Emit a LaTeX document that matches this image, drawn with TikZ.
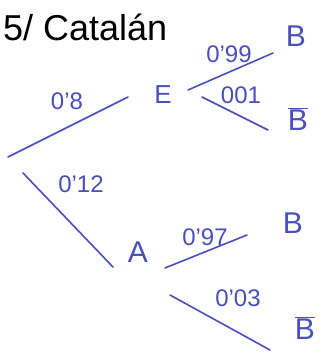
\documentclass[tikz,border=0pt]{standalone}
\usepackage{fontspec}
\setmainfont{Liberation Sans}
\definecolor{ink}{HTML}{4A4FBE}
\begin{document}
\begin{tikzpicture}[x=1pt,y=-1pt,
  br/.style={draw=ink,line width=1.6pt,line cap=round},
  lab/.style={text=ink,font=\fontsize{24}{24}\selectfont,inner sep=0pt},
  ev/.style={text=ink,font=\fontsize{30}{30}\selectfont,inner sep=0pt}]
\useasboundingbox (0,0) rectangle (321,356);
\fill[white] (0,0) rectangle (321,356);
\node[font=\fontsize{36}{36}\selectfont,inner sep=0pt,anchor=west] (title) at (3,27) {5/ Catalán};
% events
\node[ev,font=\fontsize{26}{26}\selectfont] (E) at (163,95) {E};
\node[ev] (A) at (138,252) {A};
\node[ev] (B1) at (296,36) {B};
\node[ev] (Bb1) at (298,119) {$\overline{\mbox{B}}$};
\node[ev] (B2) at (293,223) {B};
\node[ev] (Bb2) at (305,328) {$\overline{\mbox{B}}$};
% branch end points
\coordinate (r1) at (8,157);
\coordinate (r1e) at (128,97);
\coordinate (r2) at (23,173);
\coordinate (r2e) at (113,267);
\coordinate (e1) at (188,90);
\coordinate (e1e) at (273,53);
\coordinate (e2) at (202,97);
\coordinate (e2e) at (268,130);
\coordinate (a1) at (165,268);
\coordinate (a1e) at (247,235);
\coordinate (a2) at (170,295);
\coordinate (a2e) at (270,350);
\draw[br] (r1) -- (r1e);
\draw[br] (r2) -- (r2e);
\draw[br] (e1) -- (e1e);
\draw[br] (e2) -- (e2e);
\draw[br] (a1) -- (a1e);
\draw[br] (a2) -- (a2e);
% labels
\node[lab] (l1) at (67,101) {0'8};
\node[lab] (l2) at (81,184) {0'12};
\node[lab] (l3) at (229,54) {0'99};
\node[lab] (l4) at (241,95) {001};
\node[lab] (l5) at (205,237) {0'97};
\node[lab] (l6) at (238,298) {0'03};
\end{tikzpicture}
\end{document}
